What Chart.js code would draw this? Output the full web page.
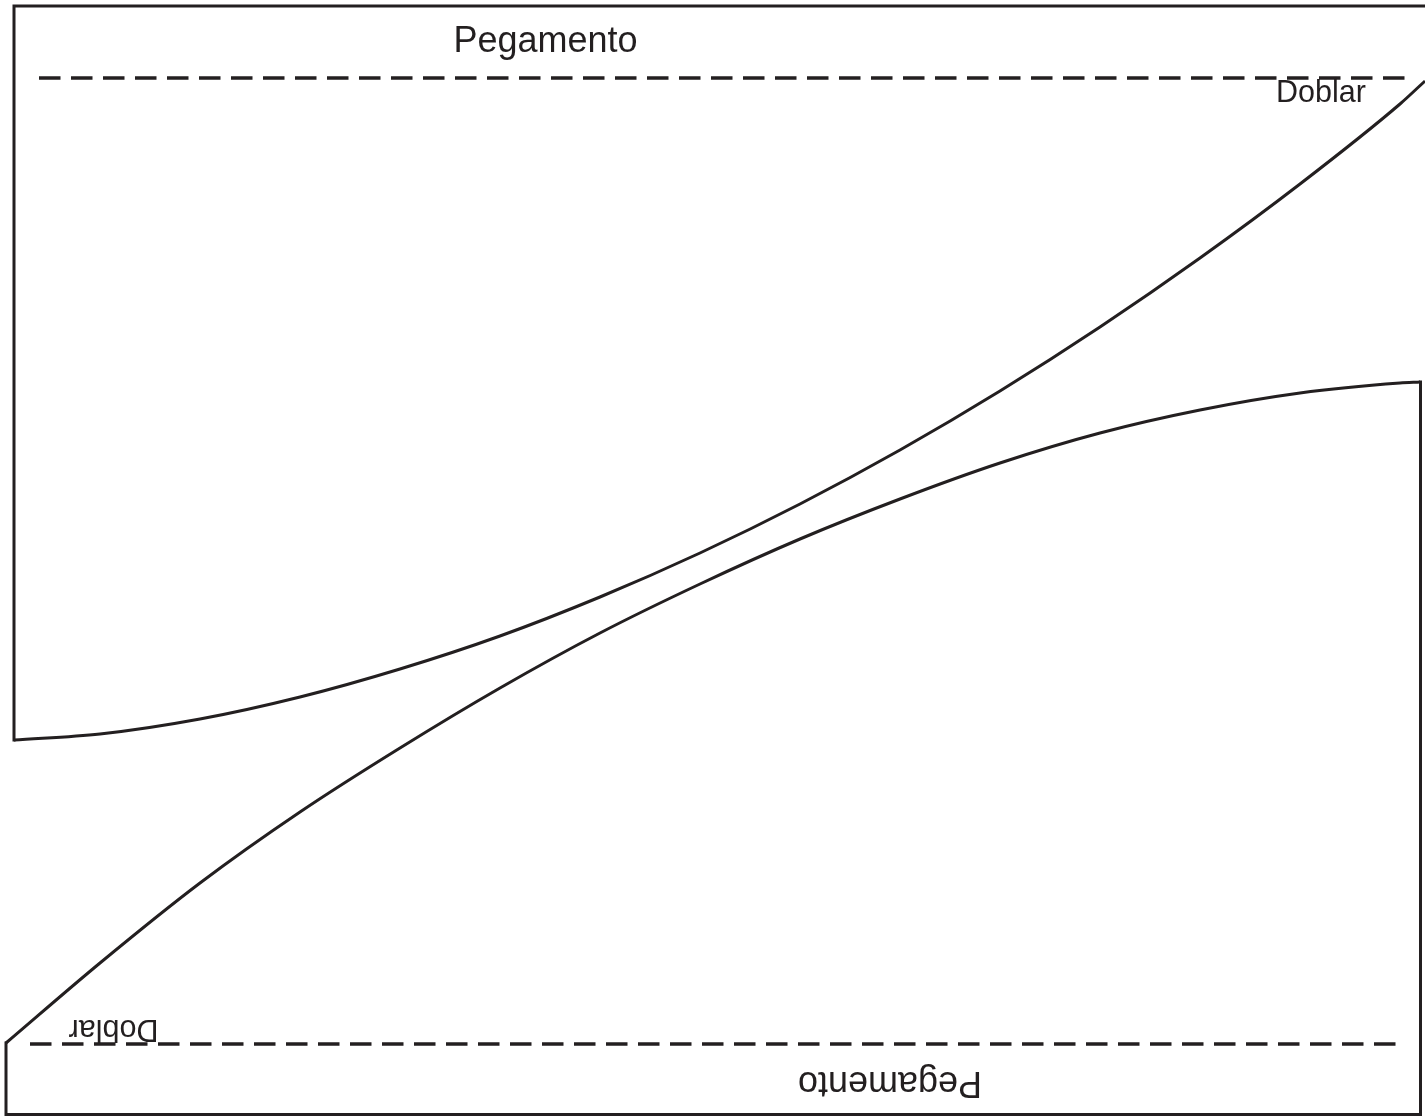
<!DOCTYPE html>
<html>
<head>
<meta charset="utf-8">
<title>Pegamento</title>
<script src="https://cdn.jsdelivr.net/npm/chart.js@4"></script>
<style>
  html, body { margin: 0; padding: 0; background: #fff; }
  canvas { display: block; }
</style>
</head>
<body>
<canvas id="plantilla" width="1425" height="1116"></canvas>
<script>
const upperCurveX = [14, 100, 200, 300, 400, 500, 600, 700, 800, 900, 1000, 1100, 1200, 1300, 1400, 1425];
const upperCurveY = [740, 734, 719, 697, 669, 636, 597, 553, 504, 450, 391, 327, 258, 184, 104, 81];
const lowerCurveX = [6, 100, 200, 300, 400, 500, 600, 700, 800, 900, 1000, 1100, 1200, 1300, 1400, 1420];
const lowerCurveY = [1043, 963, 883, 812, 748, 688, 633, 584, 539, 499, 463, 433, 410, 393, 383, 382];
const upperFrameX = [14, 14, 1425];
const upperFrameY = [740, 6, 6];
const lowerFrameX = [6, 6, 1420.5, 1420.5];
const lowerFrameY = [1043, 1114.5, 1114.5, 382];
const upperFoldX = [39, 1405];
const upperFoldY = [78, 78];
const lowerFoldX = [30, 1397];
const lowerFoldY = [1044, 1044];

const labelTexts = ["Pegamento", "Doblar", "Pegamento", "Doblar"];
const labelX = [453.5, 1276, 982, 158.5];
const labelY = [51.5, 102, 1071.5, 1020];
const labelSizes = [36, 30.5, 36, 30.5];
const labelFlipped = [false, false, true, true];

const INK = "#231f20";

function toPoints(xs, ys) {
  return xs.map((x, i) => ({ x: x, y: ys[i] }));
}

function lineSet(xs, ys, extra) {
  return Object.assign({
    data: toPoints(xs, ys),
    showLine: true,
    fill: false,
    borderColor: INK,
    borderWidth: 3,
    pointRadius: 0,
    borderJoinStyle: "miter",
  }, extra);
}

// labels sit on the same scales as the lines, flipped ones are turned 180 degrees
const labelPlugin = {
  id: "labelPlugin",
  afterDatasetsDraw(chart) {
    const ctx = chart.ctx;
    labelTexts.forEach((text, i) => {
      ctx.save();
      ctx.translate(chart.scales.x.getPixelForValue(labelX[i]), chart.scales.y.getPixelForValue(labelY[i]));
      if (labelFlipped[i]) ctx.rotate(Math.PI);
      ctx.font = labelSizes[i] + 'px "Liberation Sans"';
      ctx.fillStyle = INK;
      ctx.textBaseline = "alphabetic";
      ctx.fillText(text, 0, 0);
      ctx.restore();
    });
  },
};

new Chart(document.getElementById("plantilla"), {
  type: "scatter",
  data: {
    datasets: [
      lineSet(upperCurveX, upperCurveY, { cubicInterpolationMode: "monotone", label: "curva superior" }),
      lineSet(lowerCurveX, lowerCurveY, { cubicInterpolationMode: "monotone", label: "curva inferior" }),
      lineSet(upperFrameX, upperFrameY, { borderCapStyle: "square", label: "borde superior" }),
      lineSet(lowerFrameX, lowerFrameY, { borderCapStyle: "square", label: "borde inferior" }),
      lineSet(upperFoldX, upperFoldY, { borderDash: [21.5, 10.5], borderWidth: 3.5, label: "doblez superior" }),
      lineSet(lowerFoldX, lowerFoldY, { borderDash: [21.5, 10.5], borderWidth: 3.5, label: "doblez inferior" }),
    ],
  },
  options: {
    responsive: false,
    animation: false,
    devicePixelRatio: 1,
    layout: { padding: 0 },
    plugins: { legend: { display: false }, tooltip: { enabled: false } },
    scales: {
      x: { type: "linear", min: 0, max: 1425, display: false },
      y: { type: "linear", min: 0, max: 1116, reverse: true, display: false },
    },
  },
  plugins: [labelPlugin],
});
</script>
</body>
</html>
